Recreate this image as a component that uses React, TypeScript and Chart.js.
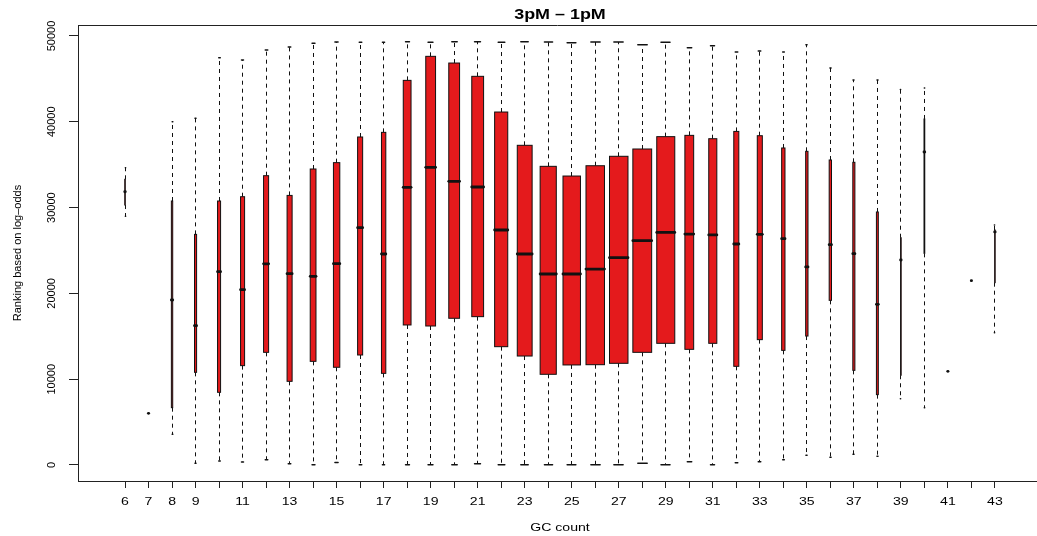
import { useEffect, useRef } from 'react';
import { Chart, registerables } from 'chart.js';

Chart.register(...registerables);

// ---- data ----
const gcCounts = [6, 7, 8, 9, 10, 11, 12, 13, 14, 15, 16, 17, 18, 19, 20, 21, 22, 23, 24, 25, 26, 27, 28, 29, 30, 31, 32, 33, 34, 35, 36, 37, 38, 39, 40, 41, 42, 43];
const shownTickLabels = [6, 7, 8, 9, 11, 13, 15, 17, 19, 21, 23, 25, 27, 29, 31, 33, 35, 37, 39, 41, 43];
const groupSizes = [4, 1, 25, 60, 127, 226, 353, 353, 459, 561, 353, 261, 838, 1330, 1618, 1935, 2388, 3054, 3618, 4230, 4733, 4733, 4900, 4500, 1070, 904, 353, 353, 154, 75, 75, 60, 50, 5, 8, 1, 1, 4];
const lowerWhisker = [29000, 6020, 3570, 190, 470, 350, 620, 160, 40, 300, 40, 40, 40, 40, 40, 160, 40, 40, 40, 40, 40, 40, 190, 40, 390, 40, 270, 390, 620, 1130, 900, 1240, 1010, 7730, 6680, 10920, 21480, 15420];
const lowerQuartile = [30300, 6020, 6680, 10800, 8470, 11580, 13130, 9750, 12080, 11390, 12820, 10680, 16320, 16200, 17100, 17290, 13790, 12700, 10570, 11660, 11690, 11850, 13130, 14180, 13480, 14180, 11500, 14610, 13360, 15030, 19190, 11030, 8200, 10460, 24670, 10920, 21480, 21250];
const medians = [31850, 6020, 19230, 16240, 22530, 20430, 23450, 22300, 21990, 23470, 27660, 24590, 32360, 34690, 33060, 32400, 27390, 24590, 22260, 22260, 22840, 24160, 26140, 27110, 26920, 26810, 25760, 26880, 26380, 23080, 25680, 24630, 18730, 23890, 36480, 10920, 21480, 27160];
const upperQuartile = [33300, 6020, 30770, 26880, 30770, 31270, 33720, 31420, 34500, 35240, 38230, 38770, 44830, 47630, 46850, 45300, 41140, 37260, 34810, 33680, 34880, 35980, 36830, 38270, 38420, 38030, 38880, 38380, 36950, 36560, 35550, 35280, 29490, 26490, 40330, 10920, 21480, 27390];
const upperWhisker = [34650, 6020, 40010, 40400, 47470, 47200, 48370, 48720, 49150, 49300, 49260, 49260, 49340, 49260, 49340, 49340, 49260, 49340, 49300, 49220, 49300, 49300, 48990, 49260, 48640, 48870, 48140, 48250, 48140, 48990, 46270, 44870, 44870, 43750, 43940, 10920, 21480, 27970];
const yTickValues = [0, 10000, 20000, 30000, 40000, 50000];

const titleText = '3pM – 1pM';
const xTitleText = 'GC count';
const yTitleText = 'Ranking based on log–odds';

const FONT = '"Liberation Sans", Arial, Helvetica, sans-serif';
const BOX_FILL = '#E41A1C';
const INK = '#111111';
const TEXT_STRETCH = 1.28;

const maxN = Math.max(...groupSizes);

const datasets = gcCounts.map((g, i) => ({
  type: 'bar' as const,
  label: String(g),
  data: [{ x: g, y: [lowerQuartile[i], upperQuartile[i]] }],
  backgroundColor: BOX_FILL,
  borderWidth: 0,
  grouped: false,
  categoryPercentage: 1,
  barPercentage: 0.8 * Math.sqrt(groupSizes[i] / maxN),
}));

const half = (v: number) => Math.round(v - 0.5) + 0.5;

const stretchedText = (ctx: CanvasRenderingContext2D, text: string, x: number, y: number) => {
  ctx.save();
  ctx.translate(x, y);
  ctx.scale(TEXT_STRETCH, 1);
  ctx.fillText(text, 0, 0);
  ctx.restore();
};

const rBoxPlugin = {
  id: 'rBox',
  beforeDatasetsDraw(chart: any) {
    const { ctx } = chart;
    const xs = chart.scales.x;
    const ys = chart.scales.y;
    ctx.save();
    ctx.strokeStyle = INK;
    gcCounts.forEach((g, i) => {
      const bar = chart.getDatasetMeta(i).data[0];
      const w = bar ? bar.width : 0;
      const cx = half(xs.getPixelForValue(g));
      const yHi = ys.getPixelForValue(upperWhisker[i]);
      const yQ3 = ys.getPixelForValue(upperQuartile[i]);
      const yQ1 = ys.getPixelForValue(lowerQuartile[i]);
      const yLo = ys.getPixelForValue(lowerWhisker[i]);
      ctx.lineWidth = 1;
      ctx.setLineDash([4, 4]);
      ctx.lineCap = 'butt';
      if (upperWhisker[i] > upperQuartile[i]) {
        ctx.beginPath();
        ctx.moveTo(cx, yQ3);
        ctx.lineTo(cx, yHi);
        ctx.stroke();
      }
      if (lowerWhisker[i] < lowerQuartile[i]) {
        ctx.beginPath();
        ctx.moveTo(cx, yQ1);
        ctx.lineTo(cx, yLo);
        ctx.stroke();
      }
      ctx.setLineDash([]);
      ctx.lineCap = 'round';
      ctx.lineWidth = 1.5;
      const sw = w / 4;
      if (upperWhisker[i] > upperQuartile[i]) {
        ctx.beginPath();
        ctx.moveTo(cx - sw, yHi);
        ctx.lineTo(cx + sw, yHi);
        ctx.stroke();
      }
      if (lowerWhisker[i] < lowerQuartile[i]) {
        ctx.beginPath();
        ctx.moveTo(cx - sw, yLo);
        ctx.lineTo(cx + sw, yLo);
        ctx.stroke();
      }
    });
    ctx.restore();
  },
  afterDatasetsDraw(chart: any) {
    const { ctx } = chart;
    const xs = chart.scales.x;
    const ys = chart.scales.y;
    ctx.save();
    ctx.strokeStyle = INK;
    gcCounts.forEach((g, i) => {
      const bar = chart.getDatasetMeta(i).data[0];
      const w = bar ? bar.width : 0;
      const cx = xs.getPixelForValue(g);
      const yQ3 = ys.getPixelForValue(upperQuartile[i]);
      const yQ1 = ys.getPixelForValue(lowerQuartile[i]);
      const yMed = ys.getPixelForValue(medians[i]);
      if (upperQuartile[i] > lowerQuartile[i]) {
        ctx.lineWidth = 1;
        ctx.setLineDash([]);
        ctx.strokeRect(cx - w / 2, yQ3, w, yQ1 - yQ3);
      }
      ctx.lineWidth = 2.8;
      ctx.lineCap = 'round';
      ctx.beginPath();
      ctx.moveTo(cx - w / 2, yMed);
      ctx.lineTo(cx + w / 2, yMed);
      ctx.stroke();
    });
    ctx.restore();
  },
  afterDraw(chart: any) {
    const { ctx, chartArea } = chart;
    const xs = chart.scales.x;
    const ys = chart.scales.y;
    ctx.save();
    // top frame line
    ctx.strokeStyle = '#222';
    ctx.lineWidth = 1;
    ctx.beginPath();
    ctx.moveTo(chartArea.left, half(chartArea.top));
    ctx.lineTo(chartArea.right, half(chartArea.top));
    ctx.stroke();

    const plotCenterX = xs.getPixelForValue(24.5);
    ctx.fillStyle = '#000';
    ctx.textAlign = 'center';
    ctx.textBaseline = 'middle';
    // title
    ctx.font = `bold 14px ${FONT}`;
    stretchedText(ctx, titleText, plotCenterX, 15);
    // x tick labels
    ctx.font = `11px ${FONT}`;
    shownTickLabels.forEach((v) => {
      stretchedText(ctx, String(v), xs.getPixelForValue(v), 502);
    });
    // x title
    stretchedText(ctx, xTitleText, plotCenterX, 528);
    // y tick labels (rotated)
    yTickValues.forEach((v) => {
      const py = ys.getPixelForValue(v);
      ctx.save();
      ctx.translate(52, py);
      ctx.rotate(-Math.PI / 2);
      ctx.fillText(String(v), 0, 0);
      ctx.restore();
    });
    // y title
    ctx.save();
    ctx.translate(18, (chartArea.top + chartArea.bottom) / 2);
    ctx.rotate(-Math.PI / 2);
    ctx.fillText(yTitleText, 0, 0);
    ctx.restore();
    ctx.restore();
  },
};

export default function App() {
  const ref = useRef<HTMLCanvasElement>(null);
  useEffect(() => {
    const canvas = ref.current!;
    const chart = new Chart(canvas, {
      type: 'bar',
      data: { datasets: datasets as any },
      options: {
        responsive: false,
        animation: false,
        devicePixelRatio: 1,
        events: [],
        layout: { padding: { top: 25, left: 0, right: 0, bottom: 0 } },
        plugins: {
          legend: { display: false },
          title: { display: false },
          tooltip: { enabled: false },
        },
        scales: {
          x: {
            type: 'linear',
            min: 4,
            max: 44.79,
            bounds: 'data',
            offset: false,
            afterBuildTicks: (s: any) => {
              s.ticks = gcCounts.map((v) => ({ value: v }));
            },
            afterFit: (s: any) => {
              s.height = 55;
            },
            grid: { display: true, drawOnChartArea: false, drawTicks: true, tickLength: 7, color: '#222', offset: false },
            border: { display: true, color: '#222', width: 1 },
            ticks: { display: false },
          },
          y: {
            type: 'linear',
            min: -1865,
            max: 51282,
            bounds: 'data',
            afterBuildTicks: (s: any) => {
              s.ticks = yTickValues.map((v) => ({ value: v }));
            },
            afterFit: (s: any) => {
              s.width = 78;
            },
            grid: { display: true, drawOnChartArea: false, drawTicks: true, tickLength: 9, color: '#222' },
            border: { display: true, color: '#222', width: 1 },
            ticks: { display: false },
          },
        },
      } as any,
      plugins: [rBoxPlugin],
    });
    return () => chart.destroy();
  }, []);
  return (
    <div style={{ position: 'fixed', left: 0, top: 0, width: 1037, height: 536, background: '#fff', overflow: 'hidden' }}>
      <canvas ref={ref} width={1037} height={536} style={{ display: 'block', width: 1037, height: 536 }} />
    </div>
  );
}
